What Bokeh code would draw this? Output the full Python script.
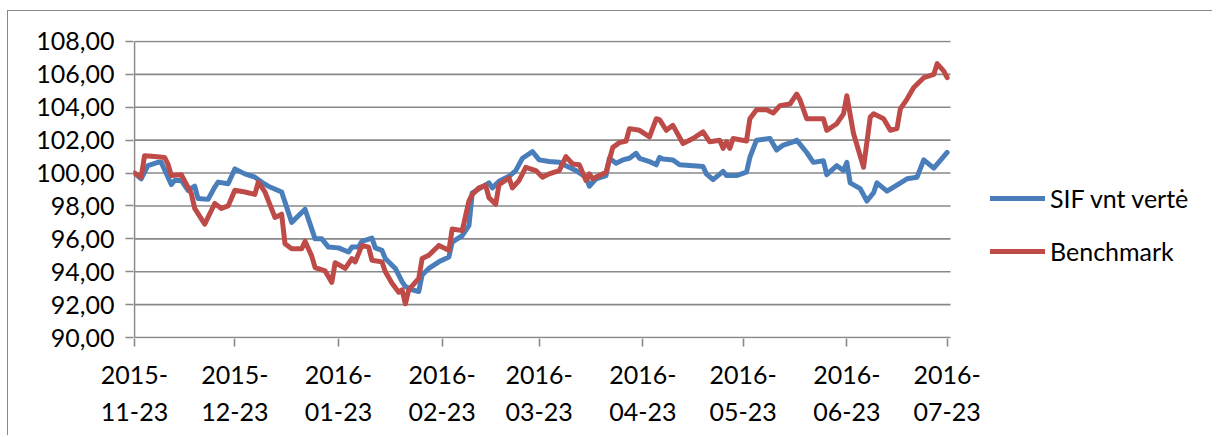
from datetime import timedelta
import pandas as pd
from bokeh.plotting import figure
from bokeh.models import Range1d, FixedTicker, Legend, LegendItem
from bokeh.embed import file_html
from bokeh.resources import INLINE

# ---- data ----
sif_dates = [
    "2015-11-23", "2015-11-25", "2015-11-27", "2015-11-30", "2015-12-01", "2015-12-04",
    "2015-12-05", "2015-12-07", "2015-12-09", "2015-12-11", "2015-12-12", "2015-12-15",
    "2015-12-17", "2015-12-18", "2015-12-21", "2015-12-23", "2015-12-26", "2015-12-29",
    "2015-12-31", "2016-01-02", "2016-01-06", "2016-01-09", "2016-01-13", "2016-01-14",
    "2016-01-16", "2016-01-18", "2016-01-20", "2016-01-23", "2016-01-26", "2016-01-27",
    "2016-01-29", "2016-01-30", "2016-02-02", "2016-02-03", "2016-02-05", "2016-02-06",
    "2016-02-09", "2016-02-11", "2016-02-12", "2016-02-14", "2016-02-16", "2016-02-17",
    "2016-02-19", "2016-02-22", "2016-02-25", "2016-02-26", "2016-02-29", "2016-03-02",
    "2016-03-03", "2016-03-08", "2016-03-09", "2016-03-10", "2016-03-11", "2016-03-14",
    "2016-03-16", "2016-03-18", "2016-03-21", "2016-03-23", "2016-03-26", "2016-03-29",
    "2016-03-31", "2016-04-03", "2016-04-06", "2016-04-07", "2016-04-09", "2016-04-12",
    "2016-04-13", "2016-04-15", "2016-04-17", "2016-04-19", "2016-04-21", "2016-04-22",
    "2016-04-25", "2016-04-27", "2016-04-28", "2016-04-29", "2016-05-02", "2016-05-04",
    "2016-05-08", "2016-05-11", "2016-05-12", "2016-05-14", "2016-05-17", "2016-05-18",
    "2016-05-21", "2016-05-24", "2016-05-25", "2016-05-27", "2016-05-31", "2016-06-02",
    "2016-06-04", "2016-06-07", "2016-06-08", "2016-06-11", "2016-06-13", "2016-06-16",
    "2016-06-17", "2016-06-20", "2016-06-22", "2016-06-23", "2016-06-24", "2016-06-27",
    "2016-06-29", "2016-07-01", "2016-07-02", "2016-07-05", "2016-07-07", "2016-07-11",
    "2016-07-14", "2016-07-16", "2016-07-19", "2016-07-23",
]
sif_values = [
    100.00, 99.65, 100.45, 100.65, 100.65, 99.30,
    99.55, 99.55, 98.95, 99.20, 98.45, 98.40,
    99.15, 99.45, 99.35, 100.25, 99.95, 99.75,
    99.45, 99.20, 98.85, 97.00, 97.80, 97.20,
    96.00, 96.00, 95.50, 95.45, 95.20, 95.50,
    95.50, 95.85, 96.05, 95.45, 95.30, 94.80,
    94.20, 93.40, 93.10, 92.90, 92.80, 93.80,
    94.20, 94.60, 94.90, 95.80, 96.20, 96.80,
    98.80, 99.40, 99.10, 99.30, 99.50, 99.80,
    100.15, 100.90, 101.30, 100.80, 100.70, 100.65,
    100.45, 100.15, 99.75, 99.20, 99.65, 99.85,
    100.90, 100.60, 100.80, 100.90, 101.20, 100.90,
    100.70, 100.50, 100.95, 100.85, 100.80, 100.50,
    100.45, 100.40, 99.95, 99.60, 100.10, 99.85,
    99.85, 100.05, 100.95, 102.00, 102.10, 101.40,
    101.70, 101.90, 102.00, 101.25, 100.65, 100.75,
    99.90, 100.45, 100.15, 100.65, 99.40, 99.05,
    98.30, 98.80, 99.40, 98.90, 99.15, 99.65,
    99.75, 100.80, 100.30, 101.25,
]

bm_dates = [
    "2015-11-23", "2015-11-25", "2015-11-26", "2015-11-29", "2015-12-02", "2015-12-03",
    "2015-12-04", "2015-12-07", "2015-12-10", "2015-12-11", "2015-12-14", "2015-12-17",
    "2015-12-19", "2015-12-21", "2015-12-23", "2015-12-26", "2015-12-29", "2015-12-30",
    "2016-01-01", "2016-01-04", "2016-01-06", "2016-01-07", "2016-01-09", "2016-01-12",
    "2016-01-13", "2016-01-15", "2016-01-16", "2016-01-19", "2016-01-21", "2016-01-22",
    "2016-01-25", "2016-01-27", "2016-01-28", "2016-01-30", "2016-02-01", "2016-02-02",
    "2016-02-05", "2016-02-06", "2016-02-08", "2016-02-10", "2016-02-11", "2016-02-12",
    "2016-02-13", "2016-02-16", "2016-02-17", "2016-02-19", "2016-02-22", "2016-02-25",
    "2016-02-26", "2016-02-29", "2016-03-02", "2016-03-03", "2016-03-05", "2016-03-07",
    "2016-03-08", "2016-03-10", "2016-03-11", "2016-03-14", "2016-03-15", "2016-03-17",
    "2016-03-19", "2016-03-22", "2016-03-24", "2016-03-26", "2016-03-29", "2016-03-31",
    "2016-04-02", "2016-04-04", "2016-04-06", "2016-04-07", "2016-04-08", "2016-04-10",
    "2016-04-12", "2016-04-14", "2016-04-16", "2016-04-18", "2016-04-19", "2016-04-22",
    "2016-04-25", "2016-04-27", "2016-04-28", "2016-04-30", "2016-05-02", "2016-05-05",
    "2016-05-08", "2016-05-11", "2016-05-13", "2016-05-16", "2016-05-17", "2016-05-18",
    "2016-05-19", "2016-05-20", "2016-05-24", "2016-05-25", "2016-05-27", "2016-05-30",
    "2016-06-01", "2016-06-03", "2016-06-06", "2016-06-08", "2016-06-09", "2016-06-11",
    "2016-06-16", "2016-06-17", "2016-06-20", "2016-06-22", "2016-06-23", "2016-06-25",
    "2016-06-28", "2016-06-30", "2016-07-01", "2016-07-04", "2016-07-06", "2016-07-08",
    "2016-07-09", "2016-07-11", "2016-07-13", "2016-07-14", "2016-07-16", "2016-07-19",
    "2016-07-20", "2016-07-22", "2016-07-23",
]
bm_values = [
    100.00, 99.75, 101.05, 101.00, 100.95, 100.55,
    99.85, 99.90, 98.75, 97.85, 96.90, 98.15,
    97.85, 98.00, 98.95, 98.85, 98.70, 99.45,
    98.85, 97.30, 97.50, 95.70, 95.40, 95.40,
    95.85, 94.95, 94.25, 94.05, 93.35, 94.55,
    94.20, 94.80, 94.60, 95.60, 95.50, 94.70,
    94.60, 94.00, 93.30, 92.75, 92.90, 92.05,
    92.90, 93.60, 94.80, 95.00, 95.60, 95.30,
    96.60, 96.50, 98.30, 98.70, 99.10, 99.25,
    98.50, 98.10, 99.30, 99.70, 99.10, 99.55,
    100.35, 100.15, 99.75, 99.95, 100.15, 101.00,
    100.55, 100.50, 99.55, 99.95, 99.65, 99.85,
    100.05, 101.55, 101.85, 101.95, 102.70, 102.60,
    102.20, 103.30, 103.25, 102.60, 102.90, 101.80,
    102.10, 102.50, 101.90, 102.00, 101.50, 101.90,
    101.50, 102.10, 101.95, 103.30, 103.85, 103.85,
    103.65, 104.10, 104.20, 104.80, 104.45, 103.30,
    103.30, 102.60, 103.00, 103.60, 104.70, 102.40,
    100.35, 103.40, 103.60, 103.30, 102.60, 102.70,
    103.90, 104.50, 105.20, 105.40, 105.80, 106.00,
    106.65, 106.20, 105.80,
]

series_names = ["SIF vnt vertė", "Benchmark"]
x_tick_dates = ["2015-11-23", "2015-12-23", "2016-01-23", "2016-02-23", "2016-03-23",
                "2016-04-23", "2016-05-23", "2016-06-23", "2016-07-23"]
x_tick_labels = ["2015-\n11-23", "2015-\n12-23", "2016-\n01-23", "2016-\n02-23", "2016-\n03-23",
                 "2016-\n04-23", "2016-\n05-23", "2016-\n06-23", "2016-\n07-23"]
axis_start = "2015-11-23"
axis_end = "2016-07-24"
y_ticks = [90, 92, 94, 96, 98, 100, 102, 104, 106, 108]
y_tick_labels = ["90,00", "92,00", "94,00", "96,00", "98,00", "100,00",
                 "102,00", "104,00", "106,00", "108,00"]

# ---- styling / layout ----
FONT = "Lato"
FS = "25px"
GRID = "#898989"
BLUE = "#4A7EBB"
RED = "#BE4B48"

W, H = 1205, 425
LEFT = 125          # canvas px left of the plot frame
PLOT_PX = 816       # width of the chart's own date span in px
FRAME_W = W - LEFT  # frame runs on to the right edge (room for the legend)

t0 = pd.Timestamp(axis_start)
t1 = pd.Timestamp(axis_end)
px_per_day = PLOT_PX / ((t1 - t0).days)
x_lo = t0 - pd.Timedelta(days=1.0 / px_per_day)
x_hi = x_lo + pd.Timedelta(days=FRAME_W / px_per_day)

def ms(d):
    return (pd.Timestamp(d) - pd.Timestamp("1970-01-01")).total_seconds() * 1000.0

sif_x = pd.to_datetime(sif_dates)
bm_x = pd.to_datetime(bm_dates)

p = figure(
    x_axis_type="datetime",
    width=W, height=H,
    min_border_left=LEFT, min_border_top=29, min_border_right=0, min_border_bottom=98,
    output_backend="svg", toolbar_location=None,
    x_range=Range1d(ms(x_lo), ms(x_hi)),
    y_range=Range1d(89.94, 108.06),
)
p.margin = (10, 0, 0, 7)
p.styles = {"border-top": f"1px solid {GRID}", "border-left": f"1px solid {GRID}"}
p.outline_line_color = None
p.background_fill_color = "white"
p.border_fill_color = "white"
p.xgrid.grid_line_color = None
p.ygrid.grid_line_color = None

# horizontal gridlines (only across the chart's date span) and the axis lines
n = len(y_ticks)
p.segment(x0=[t0] * n, x1=[t1] * n, y0=y_ticks, y1=y_ticks,
          line_color=GRID, line_width=1.6)
p.segment(x0=[t0], x1=[t0], y0=[y_ticks[0]], y1=[y_ticks[-1]],
          line_color=GRID, line_width=1.6)

r1 = p.line(sif_x, sif_values, line_color=BLUE, line_width=5,
            line_join="round", line_cap="round")
r2 = p.line(bm_x, bm_values, line_color=RED, line_width=5,
            line_join="round", line_cap="round")

# x axis
xa = p.xaxis[0]
xa.ticker = FixedTicker(ticks=[ms(d) for d in x_tick_dates])
xa.major_label_overrides = {ms(d): lab for d, lab in zip(x_tick_dates, x_tick_labels)}
xa.axis_line_color = None
xa.major_tick_line_color = GRID
xa.major_tick_line_width = 1.6
xa.major_tick_in = 0
xa.major_tick_out = 8
xa.minor_tick_line_color = None
xa.major_label_text_font = FONT
xa.major_label_text_font_size = FS
xa.major_label_text_color = "black"
xa.major_label_text_line_height = 1.25
xa.major_label_standoff = 12

# y axis
ya = p.yaxis[0]
ya.ticker = FixedTicker(ticks=y_ticks)
ya.major_label_overrides = {t: lab for t, lab in zip(y_ticks, y_tick_labels)}
ya.axis_line_color = None
ya.major_tick_line_color = GRID
ya.major_tick_line_width = 1.6
ya.major_tick_in = 0
ya.major_tick_out = 8
ya.minor_tick_line_color = None
ya.major_label_text_font = FONT
ya.major_label_text_font_size = FS
ya.major_label_text_color = "black"
ya.major_label_standoff = 11

legend = Legend(
    items=[LegendItem(label=series_names[0], renderers=[r1]),
           LegendItem(label=series_names[1], renderers=[r2])],
    location=(857, 72),
    orientation="vertical",
    glyph_width=55, glyph_height=30, label_height=30,
    label_standoff=5, spacing=23, padding=0, margin=0,
    label_text_font=FONT, label_text_font_size=FS, label_text_color="black",
    border_line_color=None, background_fill_alpha=0,
)
p.add_layout(legend, "center")

open("out.html", "w").write(file_html(p, INLINE))
